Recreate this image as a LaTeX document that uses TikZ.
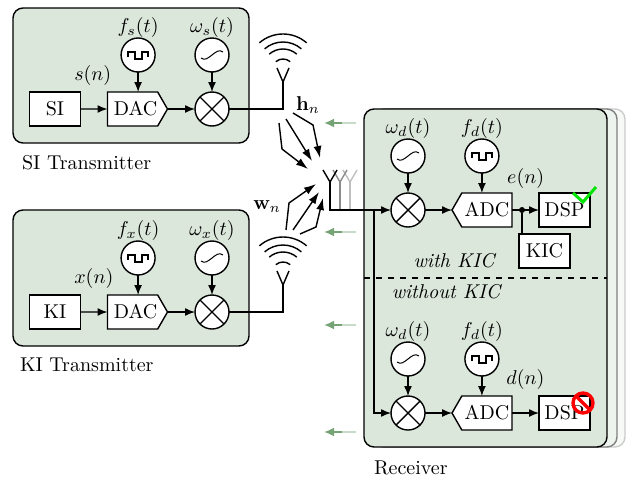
\documentclass[tikz,border=0pt]{standalone}
\usepackage{tikz}
\usetikzlibrary{positioning,shapes.symbols,arrows.meta}

\definecolor{panelgreen}{HTML}{DCE7DC}
\definecolor{arrowgreen}{HTML}{76A376}

\tikzset{
  wire/.style={line width=0.7pt},
  panel/.style={draw, wire, rounded corners=5pt, fill=panelgreen, inner sep=0pt, outer sep=0pt},
  blockbox/.style={draw, wire, fill=white, minimum width=25.5pt, minimum height=17pt, inner sep=0pt, outer sep=0pt},
  dacbox/.style={signal, signal to=east, signal pointer angle=120, draw, wire, fill=white, minimum width=30pt, minimum height=17pt, inner sep=0pt, outer sep=0pt},
  adcbox/.style={dacbox, signal to=west},
  mixer/.style={circle, draw, wire, fill=white, minimum size=17pt, inner sep=0pt, outer sep=0pt,
    path picture={
      \draw[wire] (path picture bounding box.north west) -- (path picture bounding box.south east);
      \draw[wire] (path picture bounding box.north east) -- (path picture bounding box.south west);
    }},
  clocksrc/.style={circle, draw, wire, fill=white, minimum size=17pt, inner sep=0pt, outer sep=0pt,
    path picture={
      \draw[wire] ([shift={(-10,2)}]path picture bounding box.center) -- ++(0,-5) -- ++(7,0) -- ++(0,7) -- ++(7,0) -- ++(0,-7) -- ++(6,0) -- ++(0,5);
    }},
  sinesrc/.style={circle, draw, wire, fill=white, minimum size=17pt, inner sep=0pt, outer sep=0pt,
    path picture={
      \coordinate (sc) at (path picture bounding box.center);
      \draw[line width=0.5pt] ([shift={(-11,3)}]sc) .. controls ([shift={(-7,6)}]sc) and ([shift={(-4,3)}]sc) .. (sc)
        .. controls ([shift={(4,-3)}]sc) and ([shift={(7,-6)}]sc) .. ([shift={(11,-3)}]sc);
    }},
  lbl/.style={inner sep=0pt, outer sep=0pt},
  conn/.style={wire, -{Latex[length=5pt,width=4pt]}},
  beam/.style={wire, -{Latex[length=6pt,width=4pt]}},
  backarrow/.style={line width=1pt, -{Latex[length=5pt,width=4.5pt]}, arrowgreen},
  txant/.pic={
    \draw[wire] (0,12) -- (-6,-2) (0,12) -- (6,-2);
    \foreach \rad in {11,21,28,36}
      \draw[wire] ({\rad*cos(49)},{-\rad*sin(49)}) arc [start angle=49, end angle=131, radius=\rad*0.5pt];
  },
  rxant/.pic={
    \draw[wire, pic actions] (0,0) -- (-7,-12) (0,0) -- (7,-12);
  },
}

\begin{document}
\begin{tikzpicture}[x=0.5pt, y=-0.5pt]

  \useasboundingbox (0,0) rectangle (626,477);

  % panels
  \node (rxback) [panel, draw=black!20, fill=panelgreen!25, minimum width=121.5pt, minimum height=169pt] at (503.5,278) {};
  \node (rxmid) [panel, draw=black!50, fill=panelgreen!50, minimum width=121.5pt, minimum height=169pt] at (495.5,278) {};
  \node (rxpanel) [panel, minimum width=121.5pt, minimum height=169pt] at (485.5,278) {};
  \node (sipanel) [panel, minimum width=118pt, minimum height=67.5pt] at (131,75.5) {};
  \node (kipanel) [panel, minimum width=118pt, minimum height=68pt] at (131,278) {};

  % SI transmitter
  \node (si) [blockbox] at (55,109) {SI};
  \node (dacs) [dacbox, right=13.5pt of si] {\hspace{3pt}DAC};
  \node (mixs) [mixer, at={(212,109)}] {};
  \node (fs) [clocksrc, above=10pt of dacs, xshift=2.75pt] {};
  \node (ws) [sinesrc, above=10pt of mixs] {};
  \node (fslabel) [lbl, above=0.5pt of fs] {$f_s(t)$};
  \node (wslabel) [lbl, above=0.5pt of ws] {$\omega_s(t)$};
  \node (sn) [lbl, above right=3.2pt and -3.1pt of si.north east] {$s(n)$};
  \node (sititle) [lbl, below right=6pt and 4.5pt of sipanel.south west] {SI Transmitter};

  % KI transmitter
  \node (ki) [blockbox] at (55,312) {KI};
  \node (dacx) [dacbox, right=13.5pt of ki] {\hspace{3pt}DAC};
  \node (mixx) [mixer, at={(212,312)}] {};
  \node (fx) [clocksrc, above=10pt of dacx, xshift=2.75pt] {};
  \node (wx) [sinesrc, above=10pt of mixx] {};
  \node (fxlabel) [lbl, above=0.5pt of fx] {$f_x(t)$};
  \node (wxlabel) [lbl, above=0.5pt of wx] {$\omega_x(t)$};
  \node (xn) [lbl, above right=3.4pt and -3.1pt of ki.north east] {$x(n)$};
  \node (krtitle) [lbl, below right=6pt and 3.5pt of kipanel.south west] {KI Transmitter};

  % receiver, upper branch
  \node (mixu) [mixer] at (408,210) {};
  \node (adcu) [adcbox, right=13.5pt of mixu] {ADC\hspace{3pt}};
  \node (dspu) [blockbox, right=13.5pt of adcu] {DSP};
  \node (kic) [blockbox, below=3.5pt of dspu, xshift=-10pt] {KIC};
  \node (wdu) [sinesrc, above=10pt of mixu] {};
  \node (fdu) [clocksrc, above=10pt of adcu, xshift=-2.5pt] {};
  \node (wdulabel) [lbl, above=0.5pt of wdu] {$\omega_d(t)$};
  \node (fdulabel) [lbl, above=0.5pt of fdu] {$f_d(t)$};
  \node (en) [lbl, above right=2.4pt and -2.4pt of adcu.north east] {$e(n)$};
  \node (tap) [circle, fill, inner sep=0pt, outer sep=0pt, minimum size=3pt, right=3.5pt of adcu.east] {};

  % receiver, lower branch
  \node (mixl) [mixer] at (408,413) {};
  \node (adcl) [adcbox, right=13.5pt of mixl] {ADC\hspace{3pt}};
  \node (dspl) [blockbox, right=13.5pt of adcl] {DSP};
  \node (wdl) [sinesrc, above=10pt of mixl] {};
  \node (fdl) [clocksrc, above=10pt of adcl, xshift=-2.5pt] {};
  \node (wdllabel) [lbl, above=0.5pt of wdl] {$\omega_d(t)$};
  \node (fdllabel) [lbl, above=0.5pt of fdl] {$f_d(t)$};
  \node (dn) [lbl, above right=3.2pt and -2.8pt of adcl.north east] {$d(n)$};

  \node (withkic) [lbl] at (455,261) {\textit{with KIC}};
  \node (withoutkic) [lbl] at (447,292) {\textit{without KIC}};
  \node (rxtitle) [lbl, below right=7pt and 5pt of rxpanel.south west] {Receiver};
  \node (hn) [lbl] at (308,105) {$\mathbf{h}_n$};
  \node (wn) [lbl] at (267,207) {$\mathbf{w}_n$};

  % dashed split
  \coordinate (splitl) at (364,278);
  \coordinate (splitr) at (607,278);
  \draw[wire, dashed] (splitl) -- (splitr);

  % antennas
  \coordinate (ants) at (283,70);
  \coordinate (antx) at (283,273);
  \coordinate (rxa) at (330,182);
  \coordinate (rxb) at (340,182);
  \coordinate (rxc) at (350,182);
  \coordinate (junc) at (374,210);
  \pic at (ants) {txant};
  \pic at (antx) {txant};
  \pic [black!25] at (rxc) {rxant};
  \pic [black!45] at (rxb) {rxant};
  \pic at (rxa) {rxant};

  % connectors
  \draw[conn] (si) -- (dacs);
  \draw[conn] (dacs.east) -- (mixs);
  \draw[conn] (fs) -- (fs |- dacs.north);
  \draw[conn] (ws) -- (mixs);
  \draw[wire] (mixs) -| ([yshift=-6pt]ants);

  \draw[conn] (ki) -- (dacx);
  \draw[conn] (dacx.east) -- (mixx);
  \draw[conn] (fx) -- (fx |- dacx.north);
  \draw[conn] (wx) -- (mixx);
  \draw[wire] (mixx) -| ([yshift=-6pt]antx);

  \draw[wire, black!25] (rxc) -- (rxc |- mixu);
  \draw[wire, black!45] (rxb) -- (rxb |- mixu);
  \draw[conn] (rxa) |- (mixu);
  \draw[conn] (junc) |- (mixl);

  \draw[conn] (wdu) -- (mixu);
  \draw[conn] (fdu) -- (fdu |- adcu.north);
  \draw[conn] (mixu) -- (adcu.west);
  \draw[conn] (adcu.east) -- (dspu);
  \draw[wire] (tap) -- (tap |- kic.north);

  \draw[conn] (wdl) -- (mixl);
  \draw[conn] (fdl) -- (fdl |- adcl.north);
  \draw[conn] (mixl) -- (adcl.west);
  \draw[conn] (adcl.east) -- (dspl);

  % channel beams
  \coordinate (ha) at (279,123);
  \coordinate (hb) at (286,119);
  \coordinate (hc) at (293,113);
  \coordinate (hd) at (308,169);
  \coordinate (he) at (312,161);
  \coordinate (hf) at (320,158);
  \draw[beam] (ha) -- (282,149) -- (hd);
  \draw[beam] (hb) -- (he);
  \draw[beam] (hc) -- (313,125) -- (hf);

  \coordinate (wa) at (286,230);
  \coordinate (wb) at (293,230);
  \coordinate (wc) at (300,234);
  \coordinate (wd) at (316,184);
  \coordinate (we) at (319,192);
  \coordinate (wf) at (323,198);
  \draw[beam] (wa) -- (289,203) -- (wd);
  \draw[beam] (wb) -- (we);
  \draw[beam] (wc) -- (316,227) -- (wf);

  % back arrows
  \foreach \ypos in {123,232,325,432} {
    \coordinate (backa) at (356,\ypos);
    \coordinate (backm) at (342,\ypos);
    \coordinate (backb) at (324,\ypos);
    \draw[line width=1pt, arrowgreen!40] (backa) -- (backm);
    \draw[backarrow] (backm) -- (backb);
  }

  % marks on the DSP blocks
  \draw[line width=1.5pt, green!90!black] ([shift={(-17,-0)}]dspu.north east) -- ([shift={(-7,9)}]dspu.north east) -- ([shift={(6,-6)}]dspu.north east);
  \node (nosign) [circle, draw=red, line width=1.7pt, minimum size=10pt, inner sep=0pt, at={(583,403)},
    path picture={\draw[red, line width=1.7pt] (path picture bounding box.north west) -- (path picture bounding box.south east);}] {};

\end{tikzpicture}
\end{document}
